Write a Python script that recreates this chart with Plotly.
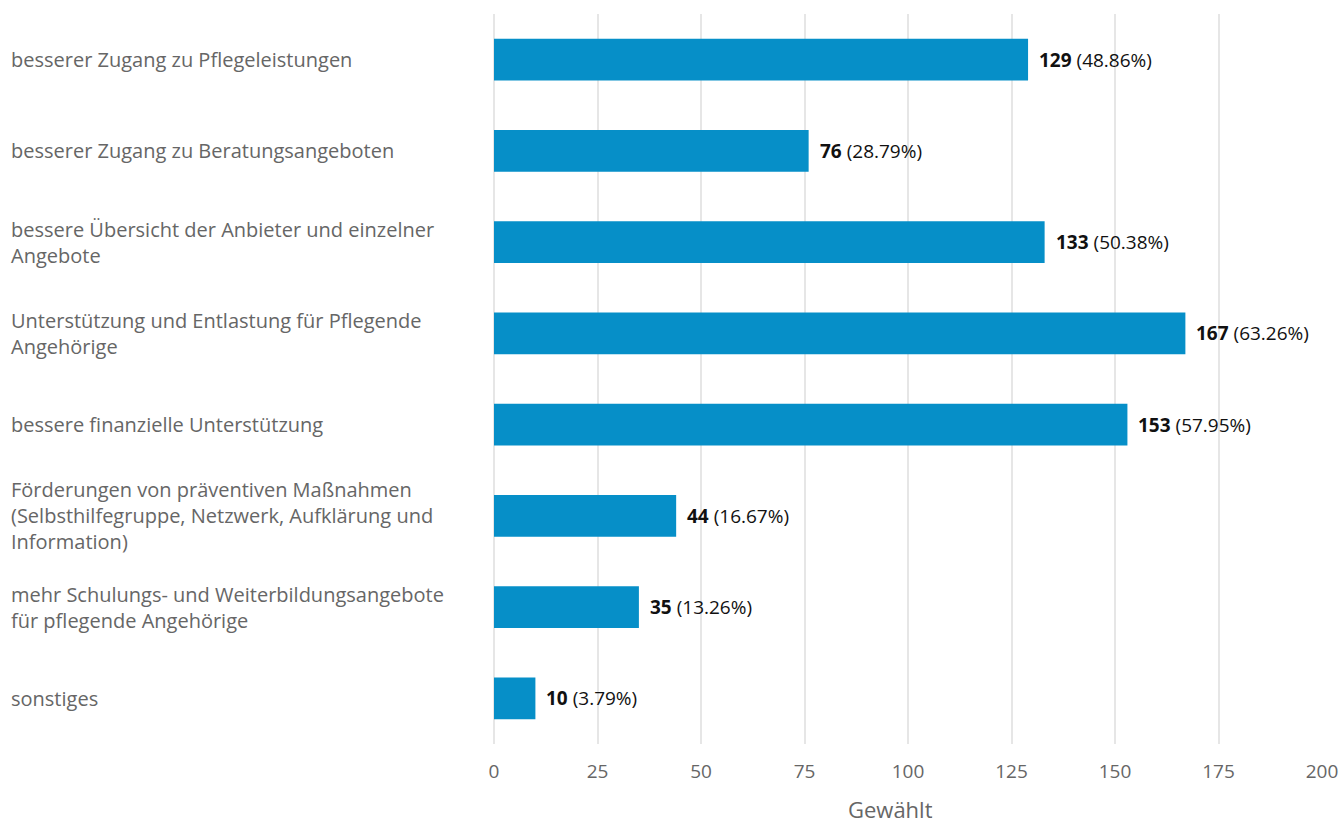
import plotly.graph_objects as go

categories = [
    "besserer Zugang zu Pflegeleistungen",
    "besserer Zugang zu Beratungsangeboten",
    "bessere Übersicht der Anbieter und einzelner<br>Angebote",
    "Unterstützung und Entlastung für Pflegende<br>Angehörige",
    "bessere finanzielle Unterstützung",
    "Förderungen von präventiven Maßnahmen<br>(Selbsthilfegruppe, Netzwerk, Aufklärung und<br>Information)",
    "mehr Schulungs- und Weiterbildungsangebote<br>für pflegende Angehörige",
    "sonstiges",
]
counts = [129, 76, 133, 167, 153, 44, 35, 10]
percents = [48.86, 28.79, 50.38, 63.26, 57.95, 16.67, 13.26, 3.79]
x_ticks = [0, 25, 50, 75, 100, 125, 150, 175, 200]

FONT = "Open Sans"
L, R, T, B = 494, 19, 14, 77
W, H = 1341, 821

ypos = list(range(len(categories)))

fig = go.Figure(go.Bar(
    x=counts, y=ypos, orientation="h",
    marker=dict(color="#068fc8", line_width=0),
    width=0.46,
    hoverinfo="skip",
))

# category labels, left aligned at the page edge
for yi, cat in zip(ypos, categories):
    fig.add_annotation(
        x=-(L - 11) / (W - L - R), xref="paper", y=yi, yref="y",
        text=cat, showarrow=False, xanchor="left", align="left", xshift=-2,
        font=dict(family=FONT, size=20, color="#666666"),
    )

# value labels next to each bar
for yi, c, p in zip(ypos, counts, percents):
    fig.add_annotation(
        x=c, y=yi, text=f"<b>{c}</b> ({p:.2f}%)",
        showarrow=False, xanchor="left", xshift=9,
        font=dict(family=FONT, size=19, color="#111111"),
    )

# axis title, sits a bit left of the plot centre
fig.add_annotation(
    x=0.5, xref="paper", y=0, yref="paper", yanchor="middle",
    xshift=-18, yshift=-65, height=22, borderpad=0,
    text="Gewählt", showarrow=False,
    font=dict(family=FONT, size=22, color="#666666"),
)

fig.update_layout(
    width=W, height=H,
    margin=dict(l=L, r=R, t=T, b=B, autoexpand=False),
    paper_bgcolor="white", plot_bgcolor="white",
    showlegend=False,
    font=dict(family=FONT, color="#666666"),
    xaxis=dict(
        range=[0, 200], tickvals=x_ticks, showgrid=True,
        gridcolor="#e6e6e6", gridwidth=2, zeroline=True,
        zerolinecolor="#e6e6e6", zerolinewidth=2,
        tickfont=dict(family=FONT, size=19, color="#666666"),
        ticks="", ticklabelstandoff=14,
    ),
    yaxis=dict(
        range=[len(categories) - 0.5, -0.5], showticklabels=False,
        showgrid=False, zeroline=False,
    ),
)

fig.write_html("out.html", config={"displayModeBar": False},
               post_script="document.body.style.margin='0';")
